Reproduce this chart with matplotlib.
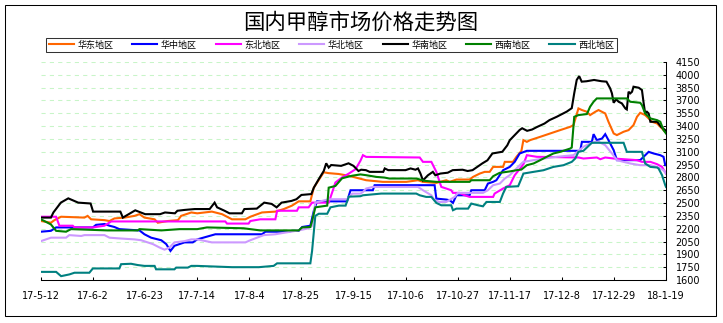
import numpy as np
import matplotlib
matplotlib.use("Agg")
import matplotlib.pyplot as plt
from matplotlib.patches import Rectangle

# 数据: (距 2017-05-12 的天数, 价格)
huadong = [(0, 2290), (4, 2270), (5.4, 2300), (8.1, 2340), (17.5, 2330), (18.8, 2350), (20.2, 2310),
           (25.6, 2300), (27.6, 2290), (29.6, 2320), (33.7, 2330), (37.7, 2350), (39.7, 2370), (41.7, 2330),
           (45.8, 2310), (47.1, 2270), (51.1, 2290), (55.2, 2300), (56.5, 2350), (60.6, 2390), (63, 2380),
           (68.9, 2400), (73, 2370), (77, 2310), (82.4, 2310), (84.4, 2340), (89.1, 2390), (94.5, 2400),
           (97.9, 2430), (101.2, 2470), (103.9, 2520), (108.6, 2520), (110, 2680), (112, 2770), (114, 2860),
           (116, 2850), (120, 2840), (124, 2820), (128, 2790), (131.1, 2767), (137.8, 2748), (147.3, 2748),
           (152, 2767), (154, 2748), (159.4, 2736), (163.4, 2767), (164.8, 2748), (167.5, 2775), (172.8, 2775),
           (174.2, 2806), (176.9, 2845), (178.9, 2865), (180.9, 2865), (182.3, 2923), (186.3, 2923), (187, 2982),
           (190.3, 2982), (191.7, 3041), (193.7, 3110), (194.5, 3236), (195.9, 3216), (197.2, 3236), (201.3, 3275),
           (205.3, 3314), (209.3, 3353), (213.4, 3392), (214.7, 3412), (216.7, 3607), (218.1, 3588), (220.1, 3568),
           (221.4, 3529), (223.5, 3568), (224.8, 3588), (227.5, 3548), (228.8, 3451), (230.9, 3314), (232.2, 3295),
           (234.9, 3334), (236.9, 3353), (238.9, 3412), (240.3, 3509), (241.6, 3556), (243.6, 3529), (245, 3490),
           (246.3, 3451), (248.4, 3431), (249.7, 3392), (251.7, 3334), (252, 3334)]

huazhong = [(0, 2165), (4, 2175), (6.1, 2215), (20.9, 2215), (22.2, 2245), (25.6, 2255), (27.6, 2235),
            (29.6, 2220), (31.6, 2195), (39.7, 2180), (41.7, 2135), (44.4, 2095), (48.5, 2065), (50.5, 2020),
            (52.2, 1940), (53.8, 2000), (57.9, 2040), (61.2, 2040), (63, 2075), (70.3, 2135), (89.1, 2135),
            (90.5, 2165), (99.9, 2165), (101.2, 2175), (103.9, 2175), (105.3, 2220), (108.6, 2235), (110, 2410),
            (111.3, 2520), (123.4, 2520), (124.8, 2650), (133.8, 2650), (134.5, 2709), (158.7, 2709), (159.4, 2552),
            (163.4, 2541), (164.8, 2533), (166.1, 2502), (167.5, 2591), (172.8, 2591), (173.5, 2650), (178.9, 2650),
            (180.2, 2728), (182.3, 2748), (183.6, 2767), (186.3, 2884), (189, 2923), (191, 2982), (193, 3080),
            (195.9, 3111), (217.4, 3111), (218.1, 3216), (222.1, 3216), (222.8, 3306), (224.1, 3236), (226.2, 3255),
            (227.5, 3306), (228.8, 3236), (230.9, 3119), (232.2, 3002), (241.6, 3002), (245, 3099), (247, 3080),
            (249.7, 3060), (251, 3041), (251.7, 2943), (252, 2943)]

dongbei = [(0, 2340), (6.1, 2340), (7.4, 2235), (12.8, 2235), (13.5, 2215), (20.9, 2215), (25.6, 2235),
           (28.3, 2285), (74.3, 2285), (75, 2260), (83.7, 2260), (84.4, 2290), (88.4, 2310), (94.5, 2310),
           (95.2, 2410), (103.2, 2410), (103.9, 2450), (107.9, 2450), (109.3, 2505), (116, 2505), (117.4, 2625),
           (118.7, 2740), (121.4, 2800), (124.1, 2845), (126.8, 2895), (128.8, 2995), (129.8, 3060), (131.1, 3040),
           (152.7, 3033), (154, 2982), (157.4, 2982), (159.4, 2865), (161.4, 2689), (163.4, 2670), (165.4, 2650),
           (166.1, 2619), (168.8, 2619), (170.8, 2591), (172.8, 2572), (182.3, 2572), (182.9, 2611), (186.3, 2670),
           (189, 2709), (191, 2826), (193.7, 2923), (194.6, 2960), (195.9, 3060), (199.9, 3041), (216.7, 3033),
           (218.7, 3021), (224.1, 3033), (225.5, 3013), (227.5, 3033), (230.9, 3021), (234.9, 3013), (240.3, 3002),
           (242.3, 2982), (245.7, 2982), (248.4, 2955), (250.4, 2923), (252, 2845)]

huabei = [(0, 2055), (4, 2095), (10.1, 2095), (11.4, 2125), (16.2, 2115), (17.5, 2125), (25.6, 2125),
          (27.6, 2095), (32.3, 2085), (37.7, 2075), (40.4, 2065), (45.1, 2020), (47.8, 1980), (49.8, 1955),
          (51.8, 1980), (53.8, 2040), (57.9, 2055), (60.6, 2075), (63, 2075), (68.9, 2040), (82.4, 2040),
          (84.4, 2065), (87.1, 2095), (89.8, 2125), (94.5, 2135), (98.5, 2155), (103.9, 2180), (107.9, 2205),
          (109.3, 2235), (110.6, 2505), (116, 2545), (123.4, 2545), (125.5, 2610), (128.8, 2610), (129.8, 2630),
          (131.1, 2670), (133.8, 2689), (152, 2689), (154, 2650), (157.4, 2591), (158.7, 2533), (160.7, 2513),
          (163.4, 2513), (166.8, 2572), (168.1, 2619), (178.2, 2619), (180.2, 2650), (182.3, 2709), (185, 2728),
          (187, 2787), (189, 2826), (191.7, 2904), (193.7, 2962), (194.5, 2982), (198.6, 3002), (202.6, 3021),
          (208, 3041), (214.7, 3060), (218.7, 3158), (221.4, 3197), (223.5, 3217), (224.8, 3217), (227.5, 3177),
          (230.2, 3080), (232.2, 3002), (234.9, 2982), (237.6, 2963), (241.6, 2943), (245.7, 2943), (248.4, 2923),
          (251, 2884), (252, 2845)]

huanan = [(0, 2330), (4, 2330), (5, 2390), (8, 2505), (11, 2555), (15, 2505), (20, 2495), (21, 2400),
          (32, 2400), (33, 2330), (38, 2415), (42, 2370), (48, 2370), (50, 2390), (54, 2380), (55, 2410),
          (58, 2420), (62, 2430), (68, 2430), (70, 2505), (71, 2450), (74, 2410), (76, 2380), (81, 2380),
          (82, 2430), (87, 2435), (90, 2505), (93, 2490), (95, 2450), (97, 2505), (101, 2525), (103, 2545),
          (105, 2595), (109, 2605), (110, 2680), (112, 2780), (114, 2875), (115, 2965), (116, 2915), (117, 2945),
          (121, 2935), (124, 2965), (126, 2935), (128, 2875), (129.1, 2890), (131, 2885), (132.5, 2865),
          (138, 2865), (138.6, 2905), (140, 2885), (147, 2885), (149, 2905), (151, 2890), (152, 2905),
          (153, 2845), (154, 2765), (156, 2825), (158, 2865), (159, 2825), (161, 2845), (164, 2855), (166, 2885),
          (170, 2890), (172, 2875), (174, 2885), (176, 2925), (178, 2965), (180, 3000), (182, 3080), (186, 3100),
          (188, 3175), (189, 3235), (191, 3295), (193, 3355), (194, 3375), (196, 3345), (198, 3360), (200, 3390),
          (203, 3430), (205, 3470), (208, 3510), (212, 3570), (214, 3610), (215, 3785), (216, 3940), (217, 3985),
          (218, 3920), (220, 3925), (223, 3940), (226, 3925), (228, 3920), (229.5, 3841), (230.2, 3783),
          (230.9, 3673), (231.9, 3713), (232.9, 3685), (234.2, 3666), (235.6, 3607), (236.2, 3595), (236.9, 3802),
          (237.6, 3783), (238.3, 3802), (238.9, 3861), (241, 3849), (242.3, 3822), (243, 3666), (243.6, 3548),
          (244.3, 3568), (245, 3548), (245.7, 3451), (248.4, 3451), (249, 3431), (250, 3392), (251.7, 3353),
          (252, 3345)]

xinan = [(0, 2310), (4, 2250), (6.1, 2175), (10.1, 2165), (12.1, 2195), (26.9, 2180), (39, 2180),
         (39.7, 2195), (48.5, 2180), (55.9, 2195), (63, 2195), (66.9, 2215), (81.7, 2205), (88.4, 2180),
         (103.9, 2180), (105.3, 2215), (108.6, 2220), (109.3, 2290), (110.6, 2450), (115.4, 2470), (116, 2680),
         (118.7, 2700), (121.4, 2790), (125.5, 2820), (128.8, 2835), (131.1, 2826), (135.2, 2806), (138.5, 2798),
         (140.5, 2787), (151.3, 2787), (154.7, 2760), (159.4, 2748), (172.8, 2748), (173.5, 2767), (180.9, 2767),
         (182.3, 2814), (184.9, 2853), (189, 2870), (191.7, 2884), (193.7, 2892), (195.9, 2943), (198.6, 2963),
         (201.3, 3002), (203.9, 3041), (206.6, 3080), (209.3, 3099), (213.4, 3138), (214, 3150), (215, 3509),
         (216.7, 3529), (220.1, 3541), (221.4, 3627), (222.8, 3685), (224.1, 3724), (236.2, 3724), (237.6, 3685),
         (241.6, 3673), (242.3, 3646), (243.6, 3548), (245.7, 3490), (248.4, 3470), (249.7, 3451), (251, 3353),
         (252, 3314)]

xibei = [(0, 1695), (6.1, 1695), (8.1, 1645), (11.4, 1665), (13.5, 1685), (19.5, 1685), (20.9, 1735),
         (31.6, 1735), (32.3, 1785), (36.3, 1790), (39, 1775), (41.7, 1765), (45.8, 1765), (46.4, 1725),
         (53.8, 1725), (54.5, 1745), (59.2, 1745), (60.6, 1765), (63, 1765), (77, 1750), (87.8, 1750),
         (93.8, 1765), (95.2, 1795), (108.6, 1795), (109.3, 1940), (110.6, 2350), (112, 2375), (115.4, 2375),
         (116.7, 2450), (120.1, 2470), (122.8, 2470), (124.1, 2575), (128.8, 2580), (129.8, 2591), (137.2, 2611),
         (151.3, 2611), (152.7, 2591), (155.3, 2572), (157.4, 2572), (159.4, 2502), (161.4, 2474), (165.4, 2474),
         (166.1, 2416), (167.5, 2435), (172.2, 2435), (173.5, 2494), (176.2, 2474), (178.2, 2462), (179.6, 2513),
         (185, 2513), (186.3, 2611), (187.6, 2689), (192.4, 2697), (193.7, 2787), (194.5, 2845), (198.6, 2865),
         (202.6, 2884), (206.6, 2923), (210.7, 2943), (214, 2982), (215.4, 3021), (216.7, 3099), (218.7, 3111),
         (222.1, 3205), (234.9, 3205), (236.2, 3099), (242.3, 3099), (243.6, 2963), (245.7, 2923), (248.4, 2916),
         (249, 2904), (250.4, 2826), (251.7, 2709), (252, 2689)]

series = [("华东地区", huadong, "#ff6600"),
          ("华中地区", huazhong, "#0000ff"),
          ("东北地区", dongbei, "#ff00ff"),
          ("华北地区", huabei, "#cc99ff"),
          ("华南地区", huanan, "#000000"),
          ("西南地区", xinan, "#008000"),
          ("西北地区", xibei, "#008080")]

x_tick_days = list(range(0, 253, 21))
x_tick_labels = ["17-5-12", "17-6-2", "17-6-23", "17-7-14", "17-8-4", "17-8-25", "17-9-15",
                 "17-10-6", "17-10-27", "17-11-17", "17-12-8", "17-12-29", "18-1-19"]
y_ticks = list(range(1600, 4151, 150))

cjk = ["Noto Sans CJK SC", "DejaVu Sans"]

W, H = 723, 323
fig = plt.figure(figsize=(W / 100, H / 100), dpi=100)
fig.patch.set_facecolor("white")

ax = fig.add_axes([41 / W, 1 - 280 / H, 625 / W, 218 / H])

for name, pts, col in series:
    d, v = zip(*pts)
    ax.plot(d, v, color=col, lw=1.5, label=name, solid_joinstyle="miter")

ax.set_xlim(0, 252)
ax.set_ylim(1600, 4150)
ax.set_yticks(y_ticks)
ax.set_xticks(x_tick_days)
ax.set_xticklabels(x_tick_labels)
ax.yaxis.tick_right()
ax.tick_params(axis="both", direction="in", length=2.5, width=0.75, labelsize=7,
               colors="black")
ax.tick_params(axis="x", pad=8)
ax.tick_params(axis="y", pad=7)

for s in ["left", "top"]:
    ax.spines[s].set_visible(False)
for s in ["bottom", "right"]:
    ax.spines[s].set_linewidth(0.75)

for yv in y_ticks[1:]:
    ax.axhline(yv, color="#c8f5c8", lw=0.75, ls=(0, (4, 4)), zorder=0)

# 标题
fig.text(360.5 / W, 1 - 23 / H, "国内甲醇市场价格走势图", ha="center", va="center",
         fontsize=15.4, family=cjk, fontweight="light")

# 图例
leg = fig.legend(loc="lower left", bbox_to_anchor=(46 / W, 1 - 52.3 / H, 571 / W, 18 / H),
                 ncol=7, mode="expand", frameon=True, fancybox=False,
                 handlelength=2.8, handletextpad=0.4, borderpad=0.3, borderaxespad=0,
                 prop={"family": cjk, "size": 6.5})
leg.get_frame().set_edgecolor("black")
leg.get_frame().set_linewidth(0.75)

# 外框
fig.patches.append(Rectangle((5 / W, 1 - 316 / H), 711 / W, 311 / H, transform=fig.transFigure,
                             fill=False, ec="black", lw=0.75))

fig.savefig("out.png", dpi=100)
